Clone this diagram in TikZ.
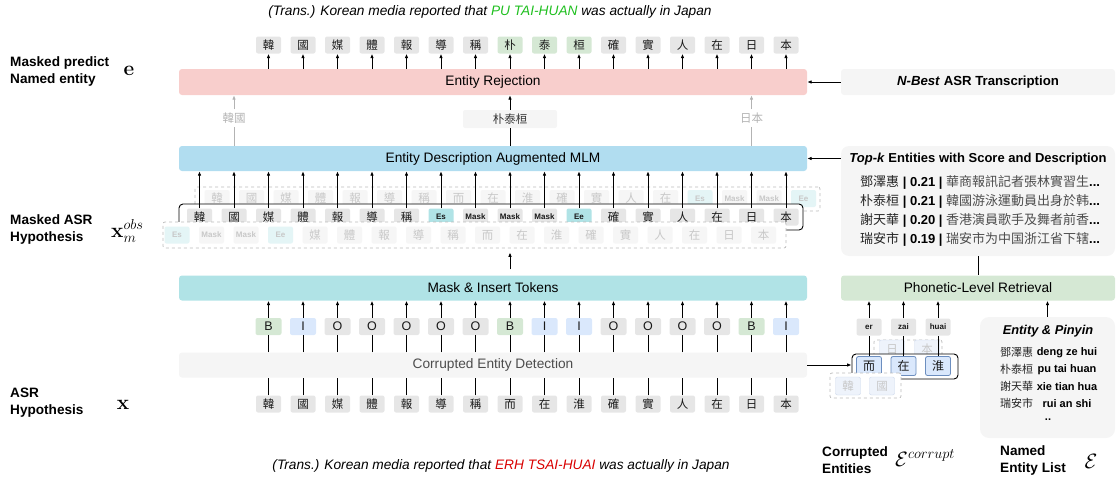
\documentclass[tikz,border=0pt]{standalone}
\usepackage[no-math]{fontspec}
\setmainfont{Liberation Sans}
\newfontfamily\cjk{Noto Sans CJK TC}
\usetikzlibrary{positioning,arrows.meta}
\definecolor{rejpink}{HTML}{F8CECC}
\definecolor{mlmblue}{HTML}{B1DDF0}
\definecolor{maskteal}{HTML}{B0E3E6}
\definecolor{retgreen}{HTML}{D5E8D4}
\definecolor{panelgray}{HTML}{F5F5F5}
\definecolor{tokgray}{HTML}{E6E6E6}
\definecolor{iblue}{HTML}{DAE8FC}
\definecolor{iedge}{HTML}{6C8EBF}
\definecolor{ghostfill}{HTML}{F6F6F6}
\definecolor{ghosttext}{HTML}{C8C8C8}
\definecolor{ghostteal}{HTML}{E4F5F6}
\definecolor{ghostblue}{HTML}{EEF3FB}
\definecolor{ghostbedge}{HTML}{CCD8EC}
\definecolor{dashgray}{HTML}{BBBBBB}
\definecolor{softgray}{HTML}{B3B3B3}
\definecolor{txtgray}{HTML}{4D4D4D}
\definecolor{goodgreen}{HTML}{1FBF1F}
\definecolor{badred}{HTML}{D90000}
\newcommand{\fsz}[1]{\fontsize{#1}{#1}\selectfont}
\tikzset{
  bigbox/.style={rounded corners=3pt,minimum width=628pt,minimum height=26pt,inner sep=0pt,font=\fsz{13.7}},
  sidebox/.style={fill=panelgray,rounded corners=3pt,minimum width=274pt,minimum height=26pt,inner sep=0pt,font=\fsz{13.2}\bfseries},
  tok/.style={fill=tokgray,rounded corners=2pt,minimum width=25pt,minimum height=17pt,inner sep=0pt,text=black!90,font=\cjk\fsz{11.5}},
  tokg/.style={tok,fill=retgreen},
  toke/.style={tok,fill=maskteal,font=\fsz{8}\bfseries},
  tokm/.style={tok,font=\fsz{8}\bfseries},
  ghost/.style={tok,fill=ghostfill,text=ghosttext},
  ghoste/.style={toke,fill=ghostteal,text=ghosttext},
  ghostm/.style={tokm,fill=ghostfill,text=ghosttext},
  ghostb/.style={tok,fill=ghostblue,draw=ghostbedge,minimum height=18pt,text=ghosttext},
  ent/.style={tok,fill=iblue,draw=iedge,line width=0.8pt,minimum height=19pt,font=\cjk\fsz{12}},
  bio/.style={tok,minimum width=26pt,font=\fsz{12.5}},
  biob/.style={bio,fill=retgreen},
  bioi/.style={bio,fill=iblue},
  dashbox/.style={draw=dashgray,dashed,fill=white,rounded corners=2pt,line width=0.7pt,inner sep=0pt},
  lbl/.style={align=left,anchor=west,inner sep=0pt,font=\fontsize{13.6}{17}\selectfont\bfseries},
  mth/.style={font=\fsz{20},inner sep=0pt},
  arr/.style={-{Latex[length=4.5pt,width=3.6pt]},line width=0.9pt},
  ln/.style={line width=0.9pt},
}
\begin{document}
\begin{tikzpicture}[x=1pt,y=-1pt]
\useasboundingbox (0,0) rectangle (1117,479);

\node[font=\fsz{13.7}\itshape] (ttop) at (490,12) {(Trans.) Korean media reported that {\color{goodgreen}PU TAI-HUAN} was actually in Japan};
\node[font=\fsz{13.7}\itshape] (tbot) at (501,466) {(Trans.) Korean media reported that {\color{badred}ERH TSAI-HUAI} was actually in Japan};

\node[lbl] (lpred) at (10,71.5) {Masked predict\\Named entity};
\node[lbl] (lmask) at (10,229) {Masked ASR\\Hypothesis};
\node[lbl] (lasr) at (10,402.5) {ASR\\Hypothesis};
\node[mth] (me) at (129,71) {$\mathbf{e}$};
\node[mth,anchor=west] (mx) at (111,231) {$\mathbf{x}_m^{obs}$};
\node[mth] (mxa) at (123,405) {$\mathbf{x}$};

% main column
\node[bigbox,fill=rejpink] (rej) at (493,82) {Entity Rejection};
\node[bigbox,fill=mlmblue,minimum height=25pt] (mlm) at (493,158.5) {Entity Description Augmented MLM};
\node[bigbox,fill=maskteal,minimum height=25pt] (mask) at (493,288) {Mask \& Insert Tokens};
\node[bigbox,fill=panelgray,minimum height=25pt,text=txtgray] (ced) at (493,365) {Corrupted Entity Detection};

\foreach \c/\s [count=\i from 0] in {韓/tok,國/tok,媒/tok,體/tok,報/tok,導/tok,稱/tok,朴/tokg,泰/tokg,桓/tokg,確/tok,實/tok,人/tok,在/tok,日/tok,本/tok}
  \node[\s] (p\i) at ({268.5+34.5*\i},45) {\c};
\foreach \i in {0,...,15}
  \draw[arr] (rej.north -| p\i) -- (p\i.south);

% masked hypothesis
\node[dashbox,minimum width=625pt,minimum height=24pt] (gtop) at (507.5,199) {};
\foreach \c/\s [count=\i from 0] in {韓/ghost,國/ghost,媒/ghost,體/ghost,報/ghost,導/ghost,稱/ghost,而/ghost,在/ghost,淮/ghost,確/ghost,實/ghost,人/ghost,在/ghost,Es/ghoste,Mask/ghostm,Mask/ghostm,Ee/ghoste}
  \node[\s] (gt\i) at ({217+34.5*\i},198.5) {\c};
\node[draw,fill=white,rounded corners=4pt,line width=0.9pt,minimum width=624pt,minimum height=26pt] (mframe) at (491,217) {};
\foreach \c/\s [count=\i from 0] in {韓/tok,國/tok,媒/tok,體/tok,報/tok,導/tok,稱/tok,Es/toke,Mask/tokm,Mask/tokm,Mask/tokm,Ee/toke,確/tok,實/tok,人/tok,在/tok,日/tok,本/tok}
  \node[\s] (m\i) at ({199.5+34.5*\i},217) {\c};
\node[dashbox,minimum width=623pt,minimum height=26pt] (gbot) at (474.5,235) {};
\foreach \c/\s [count=\i from 0] in {Es/ghoste,Mask/ghostm,Mask/ghostm,Ee/ghoste,媒/ghost,體/ghost,報/ghost,導/ghost,稱/ghost,而/ghost,在/ghost,淮/ghost,確/ghost,實/ghost,人/ghost,在/ghost,日/ghost,本/ghost}
  \node[\s] (gb\i) at ({177+34.5*\i},235) {\c};
\foreach \i in {0,...,17}
  \draw[arr] (m\i.north) -- (mlm.south -| m\i);
\draw[arr,shorten <=6pt,shorten >=4pt] (mask.north -| m9) -- (gbot.south -| m9);

% predicted spans
\node[tok,fill=none,text=softgray] (g1) at (m1 |- 0,118) {韓國};
\node[tok,fill=panelgray,minimum width=94pt,minimum height=18pt,text=black!80] (g9) at (m9 |- 0,119) {朴泰桓};
\node[tok,fill=none,text=softgray] (g16) at (m16 |- 0,118) {日本};
\foreach \i in {1,16} {
  \draw[ln,softgray] (mlm.north -| g\i) -- (g\i.south);
  \draw[arr,softgray] (g\i.north) -- (rej.south -| g\i);
}
\draw[ln] (mlm.north -| g9) -- (g9.south);
\draw[arr] (g9.north) -- (rej.south -| g9);

% tags and input
\foreach \c/\s [count=\i from 0] in {B/biob,I/bioi,O/bio,O/bio,O/bio,O/bio,O/bio,B/biob,I/bioi,I/bioi,O/bio,O/bio,O/bio,O/bio,B/biob,I/bioi}
  \node[\s] (b\i) at ({268.5+34.5*\i},326.5) {\c};
\foreach \c [count=\i from 0] in {韓,國,媒,體,報,導,稱,而,在,淮,確,實,人,在,日,本}
  \node[tok] (x\i) at ({268.5+34.5*\i},404) {\c};
\foreach \i in {0,...,15} {
  \draw[arr] (b\i.north) -- (mask.south -| b\i);
  \draw[ln] (ced.north -| b\i) -- (b\i.south);
  \draw[ln] (x\i.north) -- (ced.south -| x\i);
}

% right column
\node[sidebox] (nbest) at (978,82) {\textit{N-Best} ASR Transcription};
\draw[arr] (nbest.west) -- (rej.east);
\node[fill=panelgray,rounded corners=8pt,minimum width=274pt,minimum height=110pt,inner sep=0pt] (topk) at (978,201) {};
\draw[arr] (mlm.east -| topk.west) -- (mlm.east);
\node[font=\fsz{13}\bfseries] (tkt) at (978,159.5) {\textit{Top-k} Entities with Score and Description};
\foreach \n/\s/\d [count=\i] in {鄧澤惠/0.21/華商報訊記者張林實習生,朴泰桓/0.21/韓國游泳運動員出身於韩,謝天華/0.20/香港演員歌手及舞者前香,瑞安市/0.19/瑞安市为中国浙江省下辖}
  \node[anchor=west,inner sep=0pt,font=\fsz{13}] (tk\i) at (860,{163+19*\i}) {{\cjk\color{black!85}\n} \textbf{| \s{} |} {\cjk\color{txtgray}\d}\textbf{...}};

\node[sidebox,fill=retgreen,font=\fsz{13.7},minimum height=25pt] (phon) at (978,288) {Phonetic-Level Retrieval};
\draw[ln] (topk.south) -- (phon.north);

\node[fill=panelgray,rounded corners=9pt,minimum width=135pt,minimum height=121pt,inner sep=0pt] (ep) at (1047.5,377.5) {};
\draw[arr] (ep.north) -- (ep.north |- phon.south);
\node[font=\fsz{12.8}\bfseries\itshape] (ept) at (1048,331) {Entity \& Pinyin};
\foreach \n/\p [count=\i] in {鄧澤惠/deng ze hui,朴泰桓/pu tai huan,謝天華/xie tian hua,瑞安市/rui an shi}
{
  \node[anchor=west,inner sep=0pt,font=\cjk\fsz{11},text=black!85] (epn\i) at (1000,{335.5+17*\i}) {\n};
  \node[inner sep=0pt,font=\fsz{11}\bfseries] (epp\i) at (1067,{335.5+17*\i}) {\p};
}
\node[font=\fsz{11}\bfseries] (epd) at (1048,420) {..};

% corrupted entities
\node[dashbox,minimum width=68pt,minimum height=26pt] (cgt) at (908,353) {};
\node[ghostb] (cgt1) at (892,349) {日};
\node[ghostb] (cgt2) at (927,349) {本};
\node[draw,fill=white,rounded corners=4pt,line width=0.9pt,minimum width=106pt,minimum height=25pt] (cframe) at (905,366.5) {};
\foreach \c/\p [count=\i] in {而/er,在/zai,淮/huai} {
  \node[ent] (c\i) at ({834.5+34.5*\i},366) {\c};
  \node[tokm] (py\i) at ({834.5+34.5*\i},327) {\p};
  \draw[ln] (c\i.north) -- (py\i.south);
  \draw[arr] (py\i.north) -- (phon.south -| py\i);
}
\node[dashbox,minimum width=71pt,minimum height=25pt] (cgb) at (865.5,385.5) {};
\node[ghostb] (cgb1) at (848,386) {韓};
\node[ghostb] (cgb2) at (882,386) {國};
\draw[arr] (ced.east) -- (ced.east -| cframe.west);

\node[lbl] (lcor) at (822,460) {Corrupted\\Entities};
\node[mth,anchor=west] (mcor) at (895,458) {$\mathcal{E}^{corrupt}$};
\node[lbl] (lnel) at (1000,460) {Named\\Entity List};
\node[mth] (mnel) at (1091,461) {$\mathcal{E}$};
\end{tikzpicture}
\end{document}
